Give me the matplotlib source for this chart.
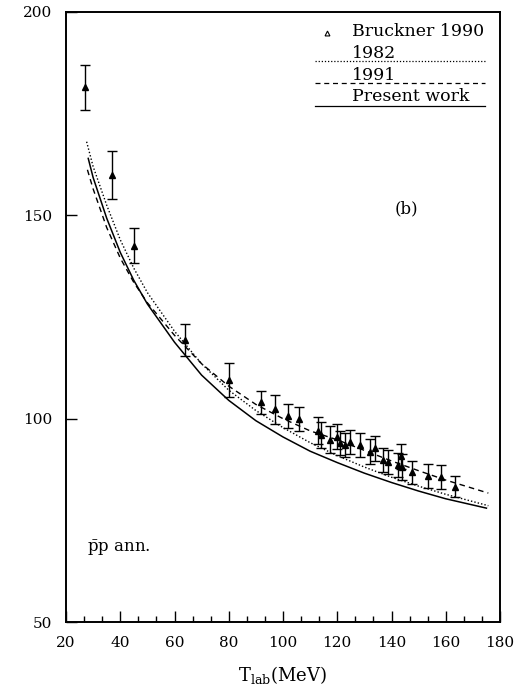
import matplotlib
matplotlib.use("Agg")
import matplotlib.pyplot as plt
from matplotlib.ticker import MultipleLocator, AutoMinorLocator

plt.rcParams['font.family'] = ['DejaVu Serif']
plt.rcParams['mathtext.fontset'] = 'dejavuserif'

# Bruckner 1990 data
t_data = [27, 37, 45, 64, 80, 92, 97, 102, 106, 113, 114, 117.3, 120, 121,
          122.9, 124.7, 128.4, 132, 133.9, 137, 138.8, 142.5, 143.5, 144,
          147.4, 153.6, 158.3, 163.4]
sig_data = [181.5, 159.9, 142.5, 119.4, 109.6, 104.0, 102.3, 100.6, 99.9,
            97.0, 96.0, 94.8, 95.6, 94.0, 93.5, 94.3, 93.5, 91.9, 92.7, 89.8,
            89.4, 88.6, 90.7, 88.2, 86.8, 85.9, 85.6, 83.3]
err_data = [5.5, 5.8, 4.3, 3.9, 4.2, 2.9, 3.6, 3.0, 2.9, 3.3, 3.3, 3.3, 3.0,
            3.0, 3.0, 3.0, 3.0, 3.0, 3.0, 2.9, 2.9, 3.0, 3.0, 3.2, 2.8, 3.0,
            3.0, 2.5]

# 1982 (dotted)
t_82 = [27.6, 30, 35, 40, 45, 50, 60, 70, 80, 90, 100, 110, 120, 130, 140,
        150, 160, 175.7]
sig_82 = [168.1, 162.0, 152.5, 144.0, 137.0, 131.0, 121.5, 113.5, 107.0,
          102.0, 97.8, 94.1, 90.9, 88.1, 85.6, 83.4, 81.4, 78.6]

# 1991 (dashed)
t_91 = [27.9, 30, 35, 40, 45, 50, 60, 70, 80, 90, 100, 110, 120, 130, 140,
        150, 160, 175.7]
sig_91 = [161.2, 156.5, 147.0, 139.5, 133.5, 128.5, 120.5, 113.5, 108.0,
          103.5, 100.0, 97.0, 94.8, 92.2, 89.6, 87.2, 84.9, 81.7]

# present work (solid)
t_pw = [28.2, 30, 35, 40, 45, 50, 60, 70, 80, 90, 100, 110, 120, 130, 140,
        150, 160, 175]
sig_pw = [164.0, 159.3, 149.3, 140.9, 134.0, 128.2, 118.8, 110.7, 104.5,
          99.5, 95.5, 92.0, 89.2, 86.6, 84.3, 82.2, 80.3, 78.0]

fig = plt.figure(figsize=(5.26, 6.89), dpi=100)
ax = fig.add_axes([66 / 526, 1 - 622 / 689, 434 / 526, 610 / 689])

ax.plot(t_82, sig_82, color='black', lw=1.0, ls=(0, (1, 1.5)))
ax.plot(t_91, sig_91, color='black', lw=1.0, ls=(0, (4, 3)))
ax.plot(t_pw, sig_pw, color='black', lw=1.1, ls='-')
ax.errorbar(t_data, sig_data, yerr=err_data, fmt='^', color='black',
            ms=4, elinewidth=1.0, capsize=3.5, capthick=1.0)

ax.set_xlim(20, 180)
ax.set_ylim(50, 200)
ax.xaxis.set_major_locator(MultipleLocator(20))
ax.xaxis.set_minor_locator(AutoMinorLocator(3))
ax.yaxis.set_major_locator(MultipleLocator(50))
ax.tick_params(which='both', direction='in', top=False, right=False,
               labelsize=11, width=1.0)
ax.tick_params(which='major', length=8, pad=10)
ax.tick_params(which='minor', length=4)
for s in ax.spines.values():
    s.set_linewidth(1.4)

ax.set_xlabel(r'T$_{\rm lab}$(MeV)', fontsize=13, labelpad=10)

# hand-made legend with lines under the labels
tr = ax.transAxes
ax.plot([0.601], [0.966], marker='^', ms=3.5, mfc='white', mec='black',
        mew=0.8, transform=tr, clip_on=False)
ax.text(0.658, 0.968, 'Bruckner 1990', fontsize=12.5, va='center', transform=tr)
ax.text(0.658, 0.932, '1982', fontsize=12.5, va='center', transform=tr)
ax.plot([0.574, 0.965], [0.919, 0.919], color='black', lw=0.9,
        ls=(0, (1, 1.5)), transform=tr)
ax.text(0.658, 0.896, '1991', fontsize=12.5, va='center', transform=tr)
ax.plot([0.574, 0.965], [0.883, 0.883], color='black', lw=0.9,
        ls=(0, (4, 3)), transform=tr)
ax.text(0.658, 0.862, 'Present work', fontsize=12.5, va='center', transform=tr)
ax.plot([0.574, 0.965], [0.846, 0.846], color='black', lw=0.9, transform=tr)

ax.text(0.758, 0.678, '(b)', fontsize=12, va='center', transform=tr)
ax.text(0.048, 0.115, r'$\bar{\rm p}$p ann.', fontsize=12, va='baseline',
        transform=tr)

fig.savefig('out.png', dpi=100)
